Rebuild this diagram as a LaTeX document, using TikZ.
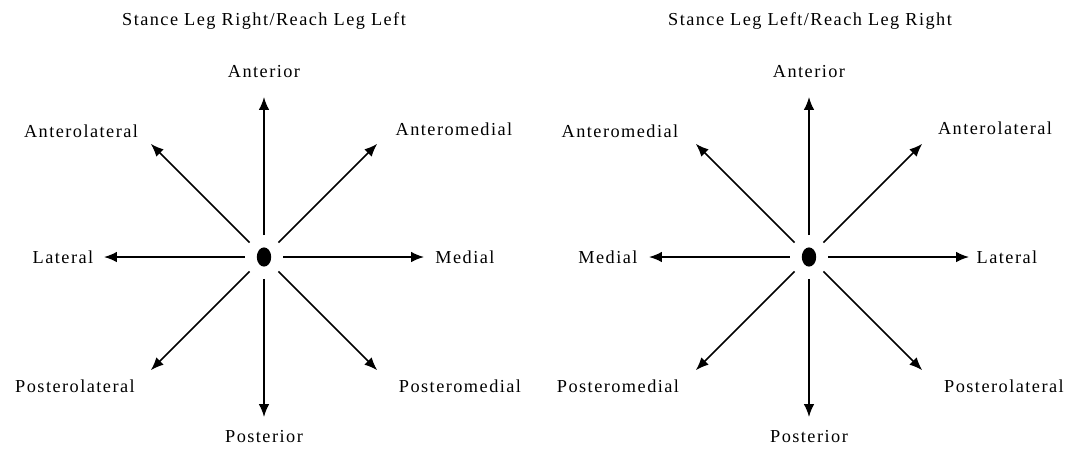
\documentclass[tikz,border=0pt]{standalone}
\usepackage{fontspec}
\setmainfont{Liberation Serif}[LetterSpace=8]
\usepackage{tikz}
\usetikzlibrary{arrows.meta,shapes.geometric}

\begin{document}
\begin{tikzpicture}[x=0.025cm,y=-0.025cm,
  lbl/.style={font=\fontsize{13}{15}\selectfont, inner sep=0pt},
  reach/.style={line width=1.2pt, shorten <=0.3cm, -{Latex[length=0.32cm,width=0.26cm]}},
  stance/.style={ellipse, fill=black, inner sep=0pt, minimum width=0.36cm, minimum height=0.48cm}]
\useasboundingbox (0,0) rectangle (1066,450);

% left: stance leg right
\node[stance] (ctrL) at (264,257) {};
\foreach \a in {0,45,...,315} {
  \coordinate (tipL\a) at ([shift={(\a:4cm)}]ctrL);
  \draw[reach] (ctrL) -- (tipL\a);
}
\node[lbl] (titleL) at (264,21) {Stance Leg Right/Reach Leg Left};
\node[lbl] (antL) at (264,72) {Anterior};
\node[lbl] (alatL) at (81,131) {Anterolateral};
\node[lbl] (amedL) at (454,129) {Anteromedial};
\node[lbl] (latL) at (63,257) {Lateral};
\node[lbl] (medL) at (465,257) {Medial};
\node[lbl] (platL) at (75,386) {Posterolateral};
\node[lbl] (pmedL) at (460,386) {Posteromedial};
\node[lbl] (postL) at (264,437) {Posterior};

% right: stance leg left
\node[stance] (ctrR) at (809,257) {};
\foreach \a in {0,45,...,315} {
  \coordinate (tipR\a) at ([shift={(\a:4cm)}]ctrR);
  \draw[reach] (ctrR) -- (tipR\a);
}
\node[lbl] (titleR) at (810,21) {Stance Leg Left/Reach Leg Right};
\node[lbl] (antR) at (809,72) {Anterior};
\node[lbl] (amedR) at (620,131) {Anteromedial};
\node[lbl] (alatR) at (995,128) {Anterolateral};
\node[lbl] (medR) at (608,257) {Medial};
\node[lbl] (latR) at (1007,257) {Lateral};
\node[lbl] (pmedR) at (618,386) {Posteromedial};
\node[lbl, anchor=east] (platR) at (1064,386) {Posterolateral};
\node[lbl] (postR) at (809,437) {Posterior};

\end{tikzpicture}
\end{document}
